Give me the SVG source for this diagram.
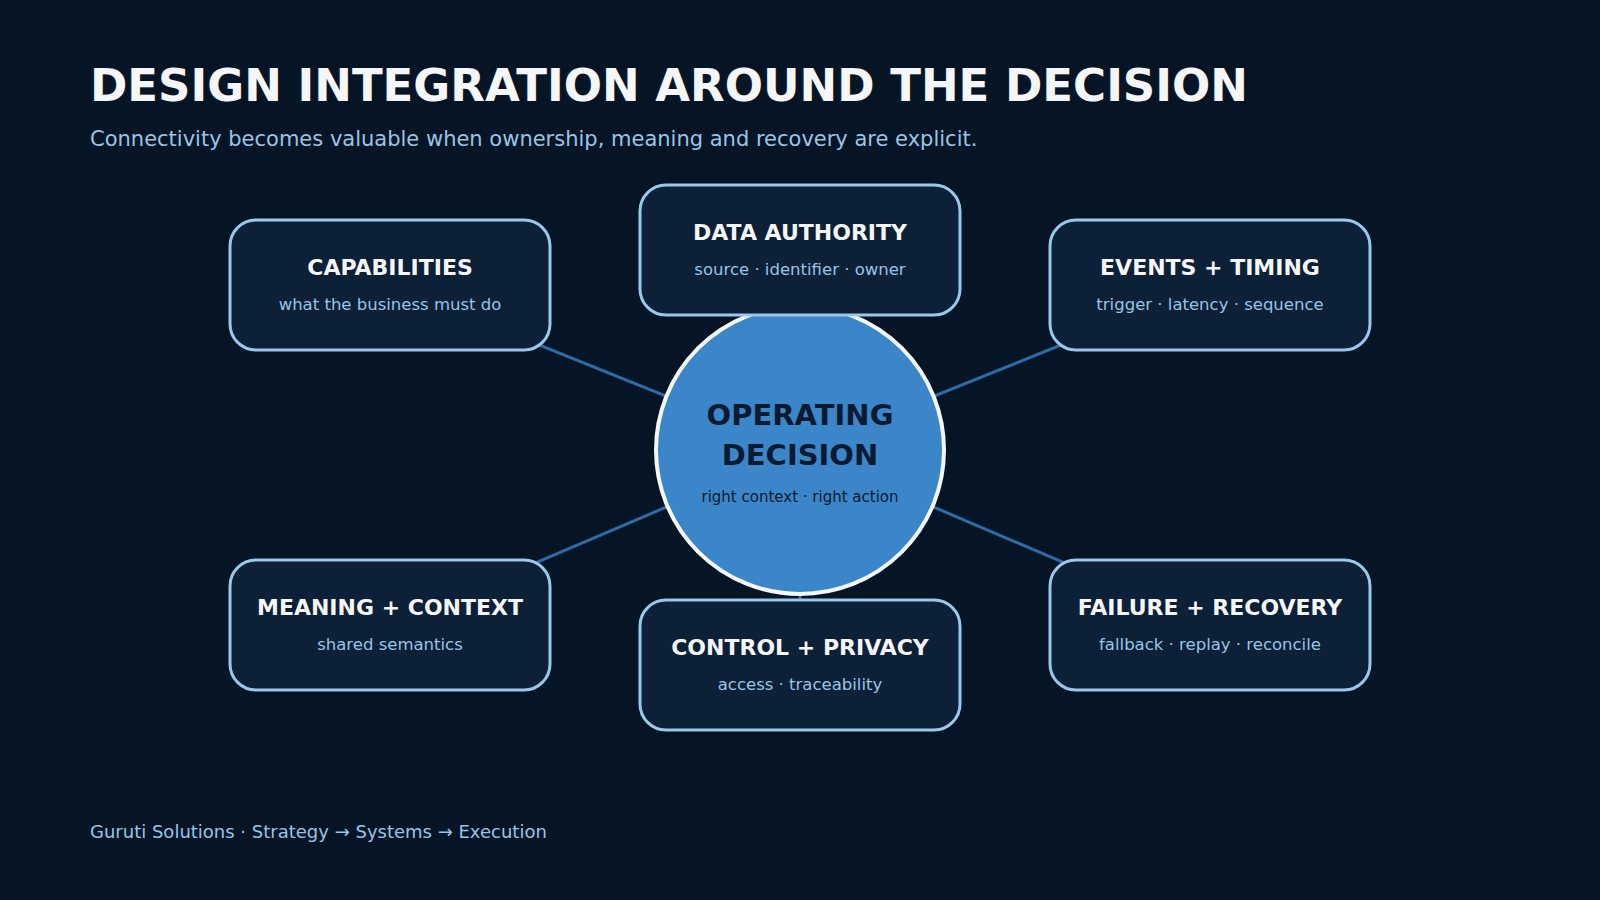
<svg xmlns="http://www.w3.org/2000/svg" width="1600" height="900" viewBox="0 0 1600 900">
<style>
text{font-family:"DejaVu Sans","Liberation Sans",sans-serif}
.box{fill:#0c2038;stroke:#9ac8ea;stroke-width:3}
.t{fill:#f4f6f8;font-size:22px;font-weight:bold;text-anchor:middle}
.s{fill:#9ac4e4;font-size:16.5px;text-anchor:middle}
.c{stroke:#2e6aa6;stroke-width:3}
</style>
<rect width="1600" height="900" fill="#061526"/>
<text x="90" y="101" fill="#f4f6f8" font-size="45" font-weight="bold">DESIGN INTEGRATION AROUND THE DECISION</text>
<text x="90" y="146" fill="#9ac4e4" font-size="21">Connectivity becomes valuable when ownership, meaning and recovery are explicit.</text>
<g id="connectors">
<line class="c" x1="390" y1="285" x2="800" y2="450"/>
<line class="c" x1="800" y1="250" x2="800" y2="450"/>
<line class="c" x1="1210" y1="285" x2="800" y2="450"/>
<line class="c" x1="390" y1="625" x2="800" y2="450"/>
<line class="c" x1="800" y1="665" x2="800" y2="450"/>
<line class="c" x1="1210" y1="625" x2="800" y2="450"/>
</g>
<g id="center">
<circle cx="800" cy="450" r="144" fill="#3a86c8" stroke="#f4f6f8" stroke-width="4"/>
<text x="800" y="425" fill="#0a1a30" font-size="29" font-weight="bold" text-anchor="middle">OPERATING</text>
<text x="800" y="465" fill="#0a1a30" font-size="29" font-weight="bold" text-anchor="middle">DECISION</text>
<text x="800" y="502" fill="#0a1a30" font-size="15" text-anchor="middle">right context · right action</text>
</g>
<g id="capabilities"><rect class="box" x="230" y="220" width="320" height="130" rx="26"/><text class="t" x="390" y="275">CAPABILITIES</text><text class="s" x="390" y="310">what the business must do</text></g>
<g id="data-authority"><rect class="box" x="640" y="185" width="320" height="130" rx="26"/><text class="t" x="800" y="240">DATA AUTHORITY</text><text class="s" x="800" y="275">source · identifier · owner</text></g>
<g id="events-timing"><rect class="box" x="1050" y="220" width="320" height="130" rx="26"/><text class="t" x="1210" y="275">EVENTS + TIMING</text><text class="s" x="1210" y="310">trigger · latency · sequence</text></g>
<g id="meaning-context"><rect class="box" x="230" y="560" width="320" height="130" rx="26"/><text class="t" x="390" y="615">MEANING + CONTEXT</text><text class="s" x="390" y="650">shared semantics</text></g>
<g id="control-privacy"><rect class="box" x="640" y="600" width="320" height="130" rx="26"/><text class="t" x="800" y="655">CONTROL + PRIVACY</text><text class="s" x="800" y="690">access · traceability</text></g>
<g id="failure-recovery"><rect class="box" x="1050" y="560" width="320" height="130" rx="26"/><text class="t" x="1210" y="615">FAILURE + RECOVERY</text><text class="s" x="1210" y="650">fallback · replay · reconcile</text></g>
<text x="90" y="838" fill="#9ac4e4" font-size="18">Guruti Solutions · Strategy → Systems → Execution</text>
</svg>
